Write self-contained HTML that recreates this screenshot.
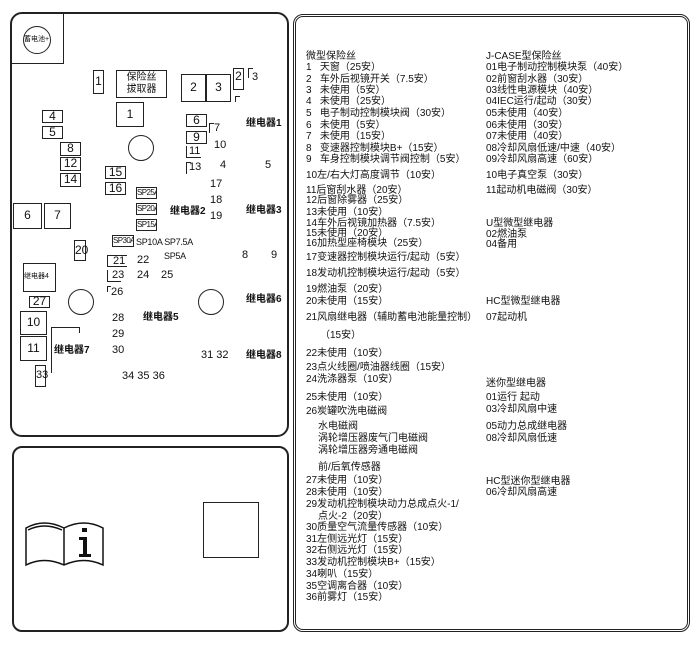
<!DOCTYPE html>
<html><head><meta charset="utf-8"><style>
body{margin:0;width:700px;height:646px;background:#fff;position:relative;overflow:hidden;font-family:"Liberation Sans","Noto Sans CJK SC",sans-serif;color:#111}
div{position:absolute;box-sizing:border-box}
.b{border:1.5px solid #222}
.t{font-size:11px;line-height:12px;white-space:nowrap}
.c{text-align:center;font-size:12px}
.r{font-size:10px;line-height:12px;white-space:nowrap}
.sp{font-size:8px;line-height:9px;letter-spacing:-0.6px;white-space:nowrap;overflow:hidden;padding-left:0}
.k{font-size:10px;font-weight:bold}
</style></head><body>
<!-- left top panel -->
<div style="left:10px;top:12px;width:279px;height:425px;border:2px solid #222;border-radius:12px"></div>
<div style="left:12px;top:63px;width:52px;height:0;border-top:1.5px solid #222"></div>
<div style="left:63px;top:14px;width:0;height:50px;border-left:1.5px solid #222"></div>
<div class="b" style="left:23px;top:26px;width:28px;height:28px;border-radius:50%"></div>
<div class="r" style="left:24px;top:34px;font-size:7px">蓄电池+</div>
<div class="b c" style="left:93px;top:70px;width:11px;height:24px;line-height:21px">1</div>
<div class="b c" style="left:116px;top:70px;width:51px;height:28px;font-size:10px;line-height:12px;padding-top:1px">保险丝<br>拔取器</div>
<div class="b c" style="left:116px;top:102px;width:28px;height:25px;line-height:22px">1</div>
<div class="b" style="left:128px;top:135px;width:26px;height:26px;border-radius:50%"></div>
<div class="b c" style="left:181px;top:74px;width:25px;height:28px;line-height:25px">2</div>
<div class="b c" style="left:206px;top:74px;width:25px;height:28px;line-height:25px">3</div>
<div class="b c" style="left:233px;top:68px;width:11px;height:22px;line-height:14px">2</div>
<div style="left:248px;top:68px;width:5px;height:10px;border-left:1.5px solid #222;border-top:1.5px solid #222"></div>
<div class="t" style="left:252px;top:71px">3</div>
<div style="left:235px;top:96px;width:5px;height:6px;border-left:1.5px solid #222;border-top:1.5px solid #222"></div>
<div class="b c" style="left:42px;top:110px;width:21px;height:13px;line-height:10px">4</div>
<div class="b c" style="left:42px;top:126px;width:21px;height:13px;line-height:10px">5</div>
<div class="b c" style="left:60px;top:142px;width:21px;height:14px;line-height:11px">8</div>
<div class="b c" style="left:60px;top:157px;width:21px;height:14px;line-height:11px">12</div>
<div class="b c" style="left:60px;top:173px;width:21px;height:14px;line-height:11px">14</div>
<div class="b c" style="left:105px;top:166px;width:21px;height:13px;line-height:10px">15</div>
<div class="b c" style="left:105px;top:182px;width:21px;height:13px;line-height:10px">16</div>
<div class="b c" style="left:186px;top:114px;width:21px;height:13px;line-height:10px">6</div>
<div class="b c" style="left:186px;top:131px;width:21px;height:13px;line-height:10px">9</div>
<div style="left:186px;top:146px;width:15px;height:12px;border-left:1.5px solid #222;border-bottom:1.5px solid #222"></div><div class="t" style="left:189px;top:145px">11</div>
<div style="left:186px;top:162px;width:5px;height:12px;border-left:1.5px solid #222;border-top:1.5px solid #222"></div><div class="t" style="left:189px;top:161px">13</div>
<div style="left:209px;top:123px;width:5px;height:10px;border-left:1.5px solid #222;border-top:1.5px solid #222"></div>
<div class="t" style="left:214px;top:122px">7</div>
<div class="t" style="left:214px;top:139px">10</div>
<div class="t" style="left:220px;top:159px">4</div>
<div class="t" style="left:265px;top:159px">5</div>
<div class="t k" style="left:246px;top:118px">继电器1</div>
<div class="t" style="left:210px;top:178px">17</div>
<div class="t" style="left:210px;top:194px">18</div>
<div class="t" style="left:210px;top:210px">19</div>
<div class="t k" style="left:170px;top:206px">继电器2</div>
<div class="t k" style="left:246px;top:205px">继电器3</div>
<div class="b sp" style="left:136px;top:187px;width:21px;height:12px">SP25A</div>
<div class="b sp" style="left:136px;top:203px;width:21px;height:12px">SP20A</div>
<div class="b sp" style="left:136px;top:219px;width:21px;height:12px">SP15A</div>
<div class="b sp" style="left:112px;top:235px;width:22px;height:12px">SP30A</div>
<div class="sp" style="left:136px;top:237px;font-size:9px;letter-spacing:-0.3px;line-height:10px">SP10A SP7.5A</div>
<div class="b c" style="left:13px;top:203px;width:29px;height:26px;line-height:23px">6</div>
<div class="b c" style="left:44px;top:203px;width:27px;height:26px;line-height:23px">7</div>
<div class="b c" style="left:74px;top:240px;width:12px;height:21px;line-height:18px">20</div>
<div style="left:107px;top:255px;width:20px;height:12px;border:1.5px solid #222;border-right:0"></div><div class="t" style="left:113px;top:255px">21</div>
<div class="t" style="left:137px;top:254px">22</div>
<div class="sp" style="left:164px;top:251px;font-size:9px;letter-spacing:-0.3px;line-height:10px">SP5A</div>
<div class="t" style="left:242px;top:249px">8</div>
<div class="t" style="left:271px;top:249px">9</div>
<div class="b r" style="left:23px;top:263px;width:33px;height:29px;line-height:26px;font-size:7px">继电器4</div>
<div style="left:107px;top:270px;width:14px;height:12px;border-left:1.5px solid #222;border-bottom:1.5px solid #222"></div><div class="t" style="left:112px;top:269px">23</div>
<div class="t" style="left:137px;top:269px">24</div>
<div class="t" style="left:161px;top:269px">25</div>
<div style="left:107px;top:286px;width:4px;height:6px;border-left:1.5px solid #222;border-top:1.5px solid #222"></div><div class="t" style="left:111px;top:286px">26</div>
<div class="b c" style="left:29px;top:296px;width:21px;height:12px;line-height:9px">27</div>
<div class="b" style="left:68px;top:289px;width:26px;height:26px;border-radius:50%"></div>
<div class="b" style="left:198px;top:289px;width:26px;height:26px;border-radius:50%"></div>
<div class="t k" style="left:246px;top:294px">继电器6</div>
<div class="b c" style="left:20px;top:311px;width:27px;height:24px;line-height:21px">10</div>
<div class="b c" style="left:20px;top:336px;width:27px;height:25px;line-height:22px">11</div>
<div class="t" style="left:112px;top:312px">28</div>
<div class="t k" style="left:143px;top:312px">继电器5</div>
<div class="t" style="left:112px;top:328px">29</div>
<div class="t" style="left:112px;top:344px">30</div>
<div style="left:51px;top:327px;width:29px;height:46px;border-left:1.5px solid #222;border-top:1.5px solid #222"></div>
<div style="left:79px;top:327px;width:0;height:6px;border-left:1.5px solid #222"></div>
<div class="t k" style="left:54px;top:345px">继电器7</div>
<div class="b c" style="left:35px;top:365px;width:11px;height:22px;line-height:19px;font-size:11px">33</div>
<div class="t" style="left:201px;top:349px">31 32</div>
<div class="t k" style="left:246px;top:350px">继电器8</div>
<div class="t" style="left:122px;top:370px">34 35 36</div>
<!-- left bottom panel -->
<div style="left:12px;top:446px;width:277px;height:186px;border:2px solid #222;border-radius:10px"></div>
<svg style="position:absolute;left:24px;top:518px" width="82" height="52" viewBox="0 0 82 52">
<g fill="none" stroke="#111" stroke-width="1.5">
<path d="M2 10 Q20 0 40 10 Q60 0 79 10 V47 Q60 38 40 47 Q20 38 2 47 Z"/>
<path d="M40 10 V47"/><path d="M4 12 Q20 4 38 12"/></g>
<rect x="58" y="10" width="5" height="4" fill="#111"/>
<path d="M55 19 H63 V36 H67 V39 H55 V36 H59 V22 H55 Z" fill="#111"/>
</svg>
<div class="b" style="left:203px;top:502px;width:56px;height:56px"></div>
<!-- right panel -->
<div style="left:293px;top:14px;width:397px;height:618px;border:3px double #222;border-radius:10px"></div>
<div class="r" style="left:306px;top:51px">微型保险丝</div>
<div class="r" style="left:306px;top:62px">1&nbsp;&nbsp; 天窗（25安）</div>
<div class="r" style="left:306px;top:74px">2&nbsp;&nbsp; 车外后视镜开关（7.5安）</div>
<div class="r" style="left:306px;top:85px">3&nbsp;&nbsp; 未使用（5安）</div>
<div class="r" style="left:306px;top:96px">4&nbsp;&nbsp; 未使用（25安）</div>
<div class="r" style="left:306px;top:108px">5&nbsp;&nbsp; 电子制动控制模块阀（30安）</div>
<div class="r" style="left:306px;top:120px">6&nbsp;&nbsp; 未使用（5安）</div>
<div class="r" style="left:306px;top:131px">7&nbsp;&nbsp; 未使用（15安）</div>
<div class="r" style="left:306px;top:143px">8&nbsp;&nbsp; 变速器控制模块B+（15安）</div>
<div class="r" style="left:306px;top:154px">9&nbsp;&nbsp; 车身控制模块调节阀控制（5安）</div>
<div class="r" style="left:306px;top:170px">10左/右大灯高度调节（10安）</div>
<div class="r" style="left:306px;top:185px">11后窗刮水器（20安）</div>
<div class="r" style="left:306px;top:195px">12后窗除雾器（25安）</div>
<div class="r" style="left:306px;top:207px">13未使用（10安）</div>
<div class="r" style="left:306px;top:218px">14车外后视镜加热器（7.5安）</div>
<div class="r" style="left:306px;top:228px">15未使用（20安）</div>
<div class="r" style="left:306px;top:238px">16加热型座椅模块（25安）</div>
<div class="r" style="left:306px;top:252px">17变速器控制模块运行/起动（5安）</div>
<div class="r" style="left:306px;top:268px">18发动机控制模块运行/起动（5安）</div>
<div class="r" style="left:306px;top:284px">19燃油泵（20安）</div>
<div class="r" style="left:306px;top:296px">20未使用（15安）</div>
<div class="r" style="left:306px;top:312px">21风扇继电器（辅助蓄电池能量控制）</div>
<div class="r" style="left:320px;top:330px">（15安）</div>
<div class="r" style="left:306px;top:348px">22未使用（10安）</div>
<div class="r" style="left:306px;top:362px">23点火线圈/喷油器线圈（15安）</div>
<div class="r" style="left:306px;top:374px">24洗涤器泵（10安）</div>
<div class="r" style="left:306px;top:392px">25未使用（10安）</div>
<div class="r" style="left:306px;top:406px">26炭罐吹洗电磁阀</div>
<div class="r" style="left:318px;top:421px">水电磁阀</div>
<div class="r" style="left:318px;top:433px">涡轮增压器废气门电磁阀</div>
<div class="r" style="left:318px;top:445px">涡轮增压器旁通电磁阀</div>
<div class="r" style="left:318px;top:462px">前/后氧传感器</div>
<div class="r" style="left:306px;top:475px">27未使用（10安）</div>
<div class="r" style="left:306px;top:487px">28未使用（10安）</div>
<div class="r" style="left:306px;top:499px">29发动机控制模块动力总成点火-1/</div>
<div class="r" style="left:318px;top:511px">点火-2（20安）</div>
<div class="r" style="left:306px;top:522px">30质量空气流量传感器（10安）</div>
<div class="r" style="left:306px;top:534px">31左侧远光灯（15安）</div>
<div class="r" style="left:306px;top:545px">32右侧远光灯（15安）</div>
<div class="r" style="left:306px;top:557px">33发动机控制模块B+（15安）</div>
<div class="r" style="left:306px;top:569px">34喇叭（15安）</div>
<div class="r" style="left:306px;top:581px">35空调离合器（10安）</div>
<div class="r" style="left:306px;top:592px">36前雾灯（15安）</div>

<div class="r" style="left:486px;top:51px">J-CASE型保险丝</div>
<div class="r" style="left:486px;top:62px">01电子制动控制模块泵（40安）</div>
<div class="r" style="left:486px;top:74px">02前窗刮水器（30安）</div>
<div class="r" style="left:486px;top:85px">03线性电源模块（40安）</div>
<div class="r" style="left:486px;top:96px">04IEC运行/起动（30安）</div>
<div class="r" style="left:486px;top:108px">05未使用（40安）</div>
<div class="r" style="left:486px;top:120px">06未使用（30安）</div>
<div class="r" style="left:486px;top:131px">07未使用（40安）</div>
<div class="r" style="left:486px;top:143px">08冷却风扇低速/中速（40安）</div>
<div class="r" style="left:486px;top:154px">09冷却风扇高速（60安）</div>
<div class="r" style="left:486px;top:170px">10电子真空泵（30安）</div>
<div class="r" style="left:486px;top:185px">11起动机电磁阀（30安）</div>
<div class="r" style="left:486px;top:218px">U型微型继电器</div>
<div class="r" style="left:486px;top:229px">02燃油泵</div>
<div class="r" style="left:486px;top:239px">04备用</div>
<div class="r" style="left:486px;top:296px">HC型微型继电器</div>
<div class="r" style="left:486px;top:312px">07起动机</div>
<div class="r" style="left:486px;top:378px">迷你型继电器</div>
<div class="r" style="left:486px;top:392px">01运行 起动</div>
<div class="r" style="left:486px;top:404px">03冷却风扇中速</div>
<div class="r" style="left:486px;top:421px">05动力总成继电器</div>
<div class="r" style="left:486px;top:433px">08冷却风扇低速</div>
<div class="r" style="left:486px;top:476px">HC型迷你型继电器</div>
<div class="r" style="left:486px;top:487px">06冷却风扇高速</div>
</body></html>
